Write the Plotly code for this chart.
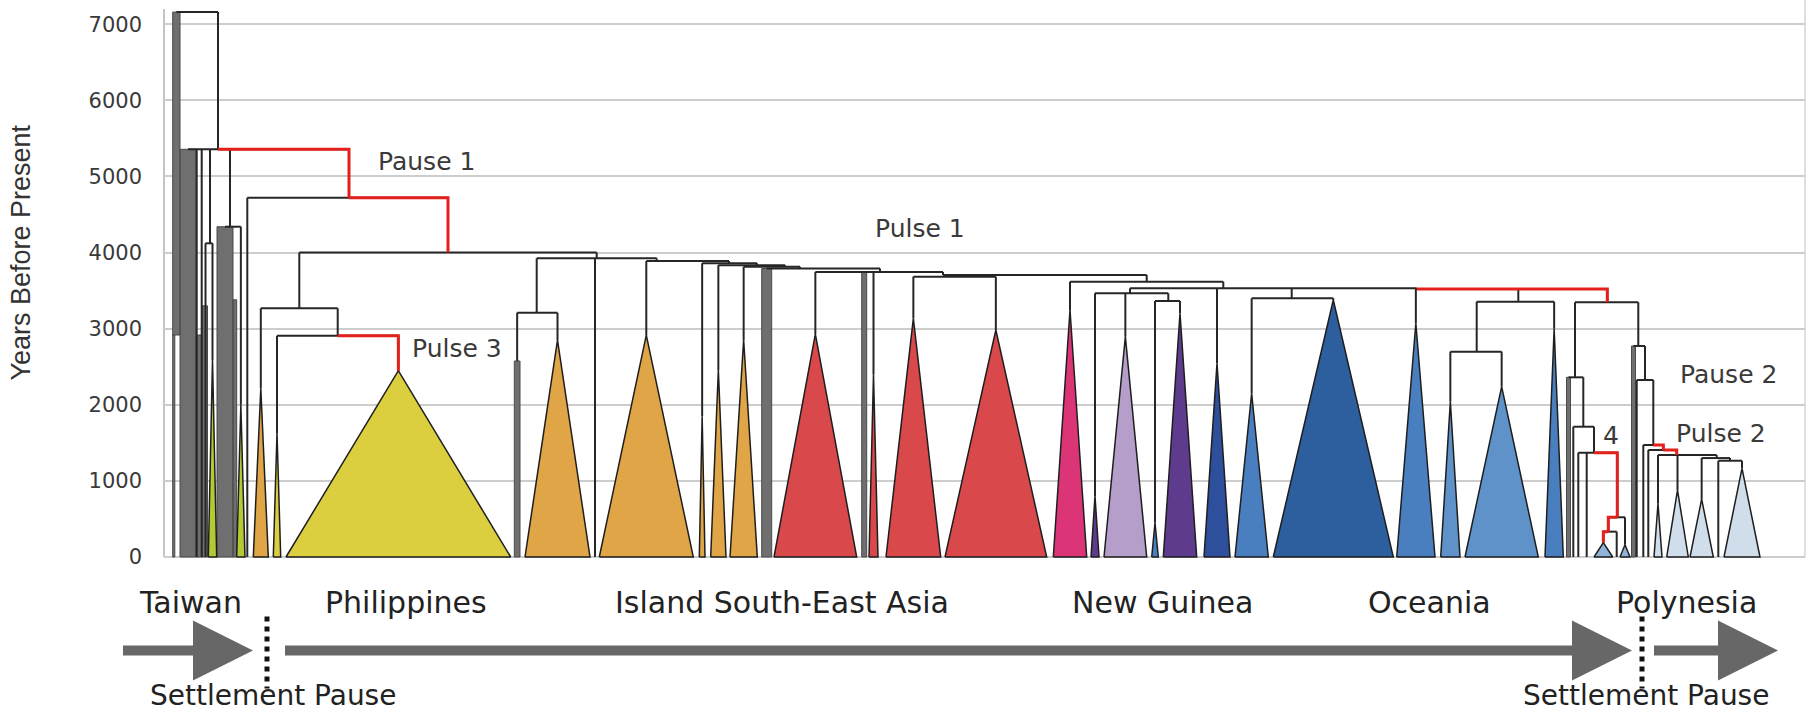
import plotly.graph_objects as go

# ---------------------------------------------------------------------------
# Data
# ---------------------------------------------------------------------------
# Vertical axis: years before present
year_ticks = [0, 1000, 2000, 3000, 4000, 5000, 6000, 7000]

# Horizontal axis: leaf layout position along the tree (arbitrary units)
layout_extent = [164, 1805]

# Collapsed clades, drawn as triangles (base on the present, apex at clade age)
clade_names = ["YG1", "YG2", "OR1", "Y1", "BY", "O1", "O2", "O3", "O4", "O5",
               "R1", "R2", "R3", "R4", "P1", "DP", "L1", "TB", "PU1", "DB1",
               "B1", "DB2", "B2", "B3", "B4", "B5",
               "LB1", "LB2", "LB3", "LB4", "LB5", "LB6"]
clade_left = [208.3, 236.7, 253.3, 273.3, 286.0, 525.0, 599.3, 699.3, 710.7, 730.0,
              774.0, 869.0, 886.0, 945.0, 1053.3, 1091.0, 1104.0, 1151.7, 1163.3, 1204.0,
              1235.0, 1273.3, 1396.7, 1440.7, 1465.0, 1545.0,
              1594.0, 1620.0, 1654.0, 1666.7, 1690.0, 1724.0]
clade_right = [216.7, 245.0, 268.3, 280.7, 510.7, 590.0, 693.3, 705.0, 726.0, 757.3,
               856.7, 878.0, 940.7, 1046.7, 1086.7, 1099.0, 1146.7, 1158.3, 1196.7, 1230.0,
               1268.3, 1393.3, 1435.0, 1460.0, 1538.3, 1563.3,
               1612.7, 1630.0, 1662.0, 1688.3, 1713.3, 1760.0]
clade_age = [2590, 2000, 2217, 1629, 2448, 2850, 2915, 1850, 2457, 2852,
             2930, 2400, 3136, 2983, 3245, 800, 2895, 450, 3202, 2545,
             2151, 3377, 3071, 2041, 2238, 3000,
             190, 160, 700, 880, 760, 1165]
clade_group = ["taiwan", "taiwan", "isea_o", "phil", "phil", "isea_o", "isea_o", "isea_o", "isea_o", "isea_o",
               "isea_r", "isea_r", "isea_r", "isea_r", "ng_pink", "ng_purple", "ng_lilac", "oc_blue", "ng_purple", "ng_navy",
               "oc_blue", "oc_dark", "oc_blue", "oc_light", "oc_light", "oc_blue",
               "poly_mid", "poly_mid", "poly_light", "poly_light", "poly_light", "poly_light"]

# Single lineages running down to the present
tip_names = ["T196", "T201", "T205", "T247", "T595",
             "T1573", "T1578", "T1587", "T1617", "T1637", "T1643", "T1648", "T1718"]
tip_x = [196.7, 201.7, 205.5, 247.3, 595.0,
         1573.3, 1578.3, 1586.7, 1616.7, 1636.7, 1643.3, 1648.3, 1718.3]

# Dense bundles of unresolved lineages (grey blocks)
bundle_names = ["GA", "GA2", "GB", "GC", "GD", "GE", "GF", "GG", "GH", "GI", "GJ", "GK"]
bundle_left = [172.7, 172.7, 180.0, 196.0, 202.0, 217.0, 233.0, 514.3, 761.7, 861.7, 1566.5, 1631.5]
bundle_right = [180.0, 174.8, 196.0, 202.0, 207.5, 233.0, 236.7, 520.0, 771.7, 866.7, 1570.5, 1635.5]
bundle_top = [7160, 2917, 5357, 2917, 3300, 4340, 3380, 2575, 3790, 3750, 2361, 2773]
bundle_bottom = [2917, 0, 0, 0, 0, 0, 0, 0, 0, 0, 0, 0]

# Internal nodes: age, layout position and descendants
node_names = ["R0", "N1", "N2", "N3", "N4", "N5", "N6", "N6b", "N7", "N8",
              "N10", "N11", "N12", "N13", "N14", "N15", "N17", "NR", "N18", "N19",
              "NB", "NB2", "NC", "N19b", "ND", "NO1", "NE",
              "NP1", "NP3", "NP4", "NP5", "NP6", "NP2", "NP7", "NP8", "NP9",
              "NP10", "NP11", "NP12"]
node_age = [7160, 5357, 4122, 4340, 4720, 4000, 3268, 2908, 3925, 3210,
            3890, 3860, 3835, 3815, 3790, 3745, 3706, 3684, 3618, 3530,
            3465, 3364, 3399, 3522, 3355, 2698, 3347,
            2361, 1712, 1371, 522, 333, 2773, 2326, 1472, 1406,
            1340, 1300, 1265]
node_x = [218.0, 218.0, 210.0, 230.0, 349.0, 448.0, 299.3, 337.7, 596.7, 536.7,
          656.7, 729.0, 757.0, 785.0, 800.0, 880.0, 943.0, 955.0, 1146.7, 1223.3,
          1130.0, 1168.3, 1291.7, 1416.7, 1518.3, 1476.7, 1607.3,
          1575.0, 1583.3, 1594.0, 1617.3, 1608.3, 1638.3, 1645.0, 1653.3, 1663.3,
          1676.7, 1716.7, 1730.0]
node_children = [
    ["GA", "N1"],
    ["GB", "T196", "T201", "N2", "N3", "N4"],
    ["T205", "YG1"],
    ["GE", "YG2"],
    ["T247", "N5"],
    ["N6", "N7"],
    ["OR1", "N6b"],
    ["Y1", "BY"],
    ["N8", "T595", "N10"],
    ["GG", "O1"],
    ["O2", "N11"],
    ["O3", "N12"],
    ["O4", "N13"],
    ["O5", "N14"],
    ["GH", "N15"],
    ["R1", "GI", "R2", "N17"],
    ["NR", "N18"],
    ["R3", "R4"],
    ["P1", "N19"],
    ["NB", "DB1", "NC", "N19b"],
    ["DP", "L1", "NB2"],
    ["TB", "PU1"],
    ["B1", "DB2"],
    ["B2", "ND", "NE"],
    ["NO1", "B5"],
    ["B3", "B4"],
    ["NP1", "NP2"],
    ["GJ", "NP3"],
    ["T1573", "NP4"],
    ["T1578", "T1587", "NP5"],
    ["NP6", "LB2"],
    ["LB1", "T1617"],
    ["GK", "NP7"],
    ["T1637", "NP8"],
    ["T1643", "NP9"],
    ["T1648", "NP10"],
    ["LB3", "LB4", "NP11"],
    ["LB5", "NP12"],
    ["T1718", "LB6"],
]

# Branches on the expansion pulses / pauses (highlighted)
highlight_edges = [("N1", "N4"), ("N4", "N5"), ("N6b", "BY"), ("N19b", "NE"),
                   ("NP4", "NP5"), ("NP5", "NP6"), ("NP6", "LB1"),
                   ("NP8", "NP9"), ("NP9", "NP10")]

# Text
event_labels = ["Pause 1", "Pulse 1", "Pulse 3", "Pause 2", "Pulse 2", "4"]
event_x = [426.7, 919.5, 457.0, 1728.0, 1721.0, 1611.0]
event_age = [5195, 4310, 2742, 2392, 1625, 1603]

region_names = ["Taiwan", "Philippines", "Island South-East Asia",
                "New Guinea", "Oceania", "Polynesia"]
region_x = [190, 406, 782, 1162, 1429, 1686]
pause_label_x = [273, 1646]

# Settlement timeline below the tree: arrow spans and pause positions
arrow_spans = [(123, 253), (285, 1632), (1654, 1778)]
pause_x = [267, 1642]

# ---------------------------------------------------------------------------
# Styles
# ---------------------------------------------------------------------------
group_colors = {
    "taiwan": "#b4c934",
    "phil": "#dccf3f",
    "isea_o": "#e0a546",
    "isea_r": "#d9494c",
    "ng_pink": "#dc3577",
    "ng_lilac": "#b59ec9",
    "ng_purple": "#5f3b8d",
    "ng_navy": "#2e4f9b",
    "oc_blue": "#4a7fbf",
    "oc_dark": "#2d5e9d",
    "oc_light": "#5e92c9",
    "poly_mid": "#8fb4da",
    "poly_light": "#cfdeea",
}
BRANCH = "#262626"
HIGHLIGHT = "#e3201b"
TEXT = "#3a3a3a"
PX_PER_YEAR = 0.0761        # vertical scale (pixels per year)
Y_RANGE = [-2063, 7319]
X0, X1 = layout_extent


def xp(x):
    """Layout position -> paper fraction (for items outside the plot area)."""
    return (x - X0) / (X1 - X0)


def yrs(px):
    """Pixel length -> years on the vertical axis."""
    return px / PX_PER_YEAR


# ---------------------------------------------------------------------------
# Tree geometry
# ---------------------------------------------------------------------------
pos = {}
for n, l, r, a in zip(clade_names, clade_left, clade_right, clade_age):
    pos[n] = ((l + r) / 2.0, a)
for n, x in zip(tip_names, tip_x):
    pos[n] = (x, 0.0)
for n, l, r, t in zip(bundle_names, bundle_left, bundle_right, bundle_top):
    pos[n] = ((l + r) / 2.0, t)
for n, x, h in zip(node_names, node_x, node_age):
    pos[n] = (x, h)

red = set(highlight_edges)
bx, by, rx, ry = [], [], [], []
for n, h, x, kids in zip(node_names, node_age, node_x, node_children):
    xs = [pos[c][0] for c in kids] + [x]
    bx += [min(xs), max(xs), None]
    by += [h, h, None]
    for c in kids:
        cx, ctop = pos[c]
        if h - ctop > 1:
            bx += [cx, cx, None]
            by += [h, ctop, None]
        if (n, c) in red:
            rx += [x, cx, cx, None]
            ry += [h, h, ctop, None]

fig = go.Figure()

# grey bundles
gx, gy = [], []
for l, r, t, b in zip(bundle_left, bundle_right, bundle_top, bundle_bottom):
    gx += [l, r, r, l, l, None]
    gy += [b, b, t, t, b, None]
fig.add_trace(go.Scatter(x=gx, y=gy, mode="lines", fill="toself",
                         fillcolor="#6f6f6f", line=dict(color="#4a4a4a", width=1),
                         hoverinfo="skip", showlegend=False))

# branches
fig.add_trace(go.Scatter(x=bx, y=by, mode="lines",
                         line=dict(color=BRANCH, width=2),
                         hoverinfo="skip", showlegend=False))

# clade triangles, one trace per colour group
for g, col in group_colors.items():
    tx, ty = [], []
    for l, r, a, cg in zip(clade_left, clade_right, clade_age, clade_group):
        if cg != g:
            continue
        tx += [l, (l + r) / 2.0, r, l, None]
        ty += [0, a, 0, 0, None]
    if tx:
        fig.add_trace(go.Scatter(x=tx, y=ty, mode="lines", fill="toself",
                                 fillcolor=col, line=dict(color="#1e1e1e", width=1.5),
                                 hoverinfo="skip", showlegend=False))

# highlighted branches
fig.add_trace(go.Scatter(x=rx, y=ry, mode="lines",
                         line=dict(color=HIGHLIGHT, width=3),
                         hoverinfo="skip", showlegend=False))

# ---------------------------------------------------------------------------
# Timeline decorations (below the axis)
# ---------------------------------------------------------------------------
line_y = -1230
shaft_half = yrs(5)
head_half = yrs(30)
head_len = 60
shapes = []
for x0, x1 in arrow_spans:
    xb = x1 - head_len
    a0, ab, a1 = xp(x0), xp(xb), xp(x1)
    path = (f"M {a0},{line_y - shaft_half} L {ab},{line_y - shaft_half} "
            f"L {ab},{line_y - head_half} L {a1},{line_y} L {ab},{line_y + head_half} "
            f"L {ab},{line_y + shaft_half} L {a0},{line_y + shaft_half} Z")
    shapes.append(dict(type="path", path=path, xref="paper", yref="y",
                       fillcolor="#676767", line=dict(width=0)))
for px in pause_x:
    shapes.append(dict(type="line", xref="paper", yref="y", x0=xp(px), x1=xp(px),
                       y0=line_y + yrs(34), y1=line_y - yrs(38),
                       line=dict(color="#111111", width=5, dash="5px,5px")))

# axis line and right frame
shapes.append(dict(type="line", xref="paper", yref="y", x0=0, x1=0, y0=0, y1=7200,
                   line=dict(color="#c4c4c4", width=2), layer="below"))
shapes.append(dict(type="line", xref="paper", yref="y", x0=1, x1=1, y0=0, y1=Y_RANGE[1],
                   line=dict(color="#d6d6d6", width=1.5), layer="below"))

annotations = []
for t, x, a in zip(event_labels, event_x, event_age):
    annotations.append(dict(x=x, y=a, xref="x", yref="y", text=t, showarrow=False,
                            xanchor="center", yanchor="middle",
                            font=dict(family="DejaVu Sans", size=25, color=TEXT)))
for t, x in zip(region_names, region_x):
    annotations.append(dict(x=xp(x), y=-604, xref="paper", yref="y", text=t,
                            showarrow=False, xanchor="center", yanchor="middle",
                            font=dict(family="DejaVu Sans", size=30, color="#222222")))
for x in pause_label_x:
    annotations.append(dict(x=xp(x), y=-1825, xref="paper", yref="y",
                            text="Settlement Pause", showarrow=False,
                            xanchor="center", yanchor="middle",
                            font=dict(family="DejaVu Sans", size=28, color="#222222")))
annotations.append(dict(x=xp(21), y=4000, xref="paper", yref="y",
                        text="Years Before Present",
                        textangle=-90, showarrow=False,
                        xanchor="center", yanchor="middle",
                        font=dict(family="Liberation Sans Narrow, Liberation Sans, Arial",
                                  size=27, color="#333333")))

fig.update_layout(
    width=1815, height=714,
    margin=dict(l=164, r=10, t=0, b=0),
    paper_bgcolor="white", plot_bgcolor="white",
    showlegend=False,
    shapes=shapes,
    annotations=annotations,
    xaxis=dict(range=layout_extent, visible=False, fixedrange=True),
    yaxis=dict(range=Y_RANGE, tickvals=year_ticks, ticktext=[str(v) for v in year_ticks],
               showgrid=True, gridcolor="#cdcdcd", gridwidth=1.5,
               zeroline=False, showline=False, ticks="",
               ticklabelstandoff=21,
               tickfont=dict(family="DejaVu Sans", size=21, color=TEXT),
               fixedrange=True),
)

fig.write_html("out.html")
